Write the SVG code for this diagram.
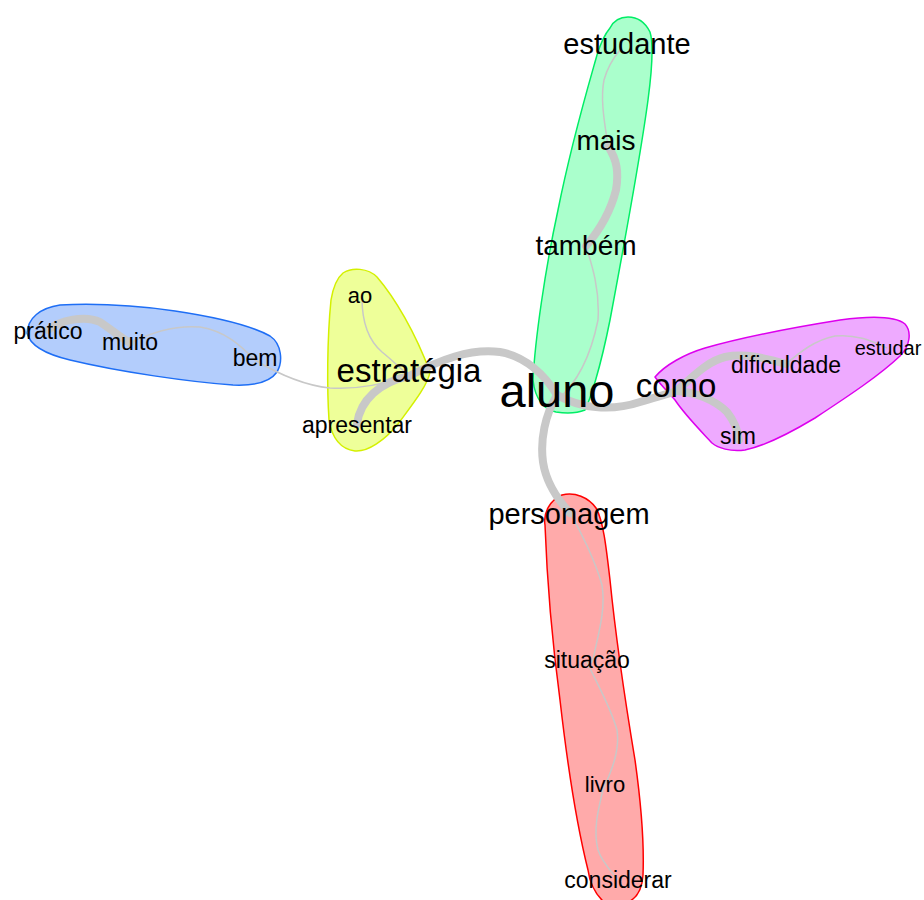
<svg xmlns="http://www.w3.org/2000/svg" width="924" height="900" viewBox="0 0 924 900">
<style>
.hull{stroke-width:1.5;stroke-linejoin:round}
.thick{fill:none;stroke:#c8c8c8;stroke-width:8;stroke-linecap:round}
.thin{fill:none;stroke:#c8c8c8;stroke-width:1.5}
text{font-family:"Liberation Sans",Arial,sans-serif;fill:#000;text-anchor:middle}
</style>
<rect width="924" height="900" fill="#fff"/>
<g id="hulls">
<path id="hull-blue" class="hull" fill="#b3cdfc" stroke="#1e6ef5" d="M27,333 C28,318 40,308 60,305 C100,303 140,306 175,311 C215,317 250,325 270,336 C282,344 283,362 277,372 C270,382 255,386 233,385 C190,382 120,372 70,360 C45,354 30,346 27,333 Z"/>
<path id="hull-yellow" class="hull" fill="#eeff99" stroke="#d4f000" d="M343,273 C352,267 368,268 377,277 C395,298 415,332 430,372 C428,385 412,405 398,424 C385,440 368,452 355,451 C340,449 332,438 329,420 C327,390 327,340 331,300 C333,288 337,278 343,273 Z"/>
<path id="hull-green" class="hull" fill="#aaffcc" stroke="#00ee66" d="M610,28 C614,20 620,17 628,17 C637,17 645,22 650,32 C654,45 652,70 648,100 C640,160 625,240 610,320 C600,370 590,400 585,410 C575,414 563,413 556,412 C545,410 535,400 533,380 C535,340 545,270 558,210 C572,140 590,80 597,55 C601,42 605,34 610,28 Z"/>
<path id="hull-purple" class="hull" fill="#eeaaff" stroke="#dd00ee" d="M655,377 C665,365 685,354 705,348 C740,338 790,328 840,320 C870,316 895,316 905,324 C912,332 910,346 900,356 C880,375 850,395 815,418 C790,433 765,446 745,450 C730,452 718,448 712,443 C700,430 685,415 675,400 C668,392 660,384 655,377 Z"/>
<path id="hull-red" class="hull" fill="#ffaaaa" stroke="#ff0000" d="M545,525 C543,513 550,500 562,495 C575,492 588,497 596,508 C603,520 606,545 610,580 C616,640 625,700 635,760 C642,810 644,850 643,875 C642,893 634,900 626,903 L605,903 C596,895 590,885 588,870 C578,830 568,770 560,700 C552,640 547,580 545,525 Z"/>
</g>
<g id="edges">
<path class="thick" d="M357,424 C360,400 380,382 409,376"/>
<path class="thick" d="M409,376 C440,360 470,348 500,352 C525,356 545,375 557,395"/>
<path class="thick" d="M557,395 C580,408 610,412 640,402 C655,397 666,395 676,391"/>
<path class="thick" d="M557,395 C545,415 540,440 543,462 C546,482 558,500 570,513"/>
<path class="thick" d="M676,391 C690,380 705,362 725,357 C745,353 765,358 786,364"/>
<path class="thick" d="M676,391 C695,392 715,400 727,412 C735,422 738,432 739,440"/>
<path class="thick" d="M586,246 C598,232 610,214 616,190 C619,172 617,160 608,146"/>
<path class="thick" d="M48,330 C60,320 85,315 100,322 C112,330 120,337 130,343"/>
<path class="thin" d="M130,343 C150,333 175,325 200,327 C225,331 240,345 255,360"/>
<path class="thin" d="M255,360 C275,372 300,385 330,388 C360,390 385,383 409,376"/>
<path class="thin" d="M362,298 C362,320 368,340 382,352 C392,360 400,368 409,376"/>
<path class="thin" d="M557,400 C575,385 590,360 598,320 C600,290 592,265 586,246"/>
<path class="thin" d="M608,146 C605,125 600,100 604,80 C608,65 615,56 620,50"/>
<path class="thin" d="M786,364 C800,352 815,340 835,336 C855,334 870,340 887,348"/>
<path class="thin" d="M570,513 C580,530 595,560 602,585 C606,610 598,635 594,655 C593,662 590,665 587,662"/>
<path class="thin" d="M587,662 C595,680 610,705 617,730 C620,750 612,770 603,790"/>
<path class="thin" d="M603,790 C598,810 593,830 598,850 C602,862 610,870 618,880"/>
</g>
<g id="node-aluno"><text x="557" y="407" font-size="47">aluno</text></g>
<g id="node-como"><text x="676" y="397" font-size="33">como</text></g>
<g id="node-estrategia"><text x="409" y="382" font-size="33">estratégia</text></g>
<g id="node-apresentar"><text x="357" y="433" font-size="23">apresentar</text></g>
<g id="node-ao"><text x="360" y="303" font-size="22">ao</text></g>
<g id="node-pratico"><text x="48" y="339" font-size="23">prático</text></g>
<g id="node-muito"><text x="130" y="350" font-size="23">muito</text></g>
<g id="node-bem"><text x="255" y="366" font-size="23">bem</text></g>
<g id="node-dificuldade"><text x="786" y="373" font-size="23">dificuldade</text></g>
<g id="node-estudar"><text x="888" y="355" font-size="20">estudar</text></g>
<g id="node-sim"><text x="738" y="444" font-size="23">sim</text></g>
<g id="node-estudante"><text x="627" y="54" font-size="29">estudante</text></g>
<g id="node-mais"><text x="606" y="150" font-size="28">mais</text></g>
<g id="node-tambem"><text x="586" y="255" font-size="28">também</text></g>
<g id="node-personagem"><text x="569" y="524" font-size="29">personagem</text></g>
<g id="node-situacao"><text x="587" y="668" font-size="23">situação</text></g>
<g id="node-livro"><text x="605" y="792" font-size="22">livro</text></g>
<g id="node-considerar"><text x="618" y="888" font-size="23">considerar</text></g>
</svg>
